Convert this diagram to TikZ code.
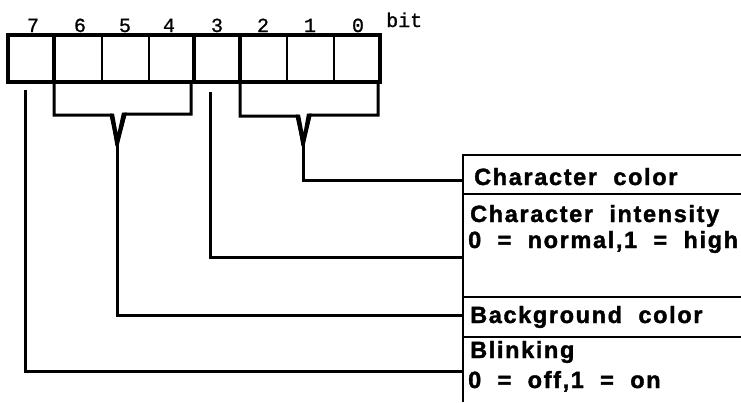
\documentclass[tikz,border=0pt]{standalone}
\usepackage{fontspec}
\newfontfamily\lblfont[LetterSpace=7,WordSpace=2,FakeBold=1.6]{Liberation Sans Bold}
\newfontfamily\bitfont[FakeBold=1]{Liberation Mono}
\tikzset{
  reg/.style={line width=3.8pt, line join=miter},
  div/.style={line width=2.8pt},
  thickdiv/.style={line width=4.4pt},
  conn/.style={line width=3pt, line join=miter},
  boxline/.style={line width=2.4pt},
  bitlbl/.style={font=\bitfont\fontsize{20}{20}\selectfont, anchor=base, inner sep=0pt},
  rowtxt/.style={font=\lblfont\fontsize{23.5}{24}\selectfont, anchor=base west, inner sep=0pt},
}
\begin{document}
\begin{tikzpicture}[x=1pt,y=-1pt]
\useasboundingbox (0,0) rectangle (741,402);
% register
\coordinate (rtl) at (8,35);
\coordinate (rbr) at (380,82);
\draw[reg] (rtl) rectangle (rbr);
\foreach \x in {102,149,287,334} \draw[div] (\x,35) -- (\x,82);
\foreach \x in {54,194,240} \draw[thickdiv] (\x,35) -- (\x,82);
% bit labels
\node[bitlbl] (b7) at (33,32) {7};
\node[bitlbl] (b6) at (80,32) {6};
\node[bitlbl] (b5) at (125,32) {5};
\node[bitlbl] (b4) at (169,32) {4};
\node[bitlbl] (b3) at (217,32) {3};
\node[bitlbl] (b2) at (263,32) {2};
\node[bitlbl] (b1) at (310,32) {1};
\node[bitlbl] (b0) at (358,32) {0};
\node[bitlbl, anchor=base west] (bit) at (386,27) {bit};
% right box
\coordinate (bxt) at (463,155);
\coordinate (bxb) at (463,402);
\draw[boxline] (bxb) -- (bxt) -- (741,155);
\draw[boxline] (463,194) -- (741,194);
\draw[boxline] (463,297) -- (741,297);
\draw[boxline] (463,337) -- (741,337);
\node[rowtxt] (cc) at (474,185) {Character color};
\node[rowtxt] (ci) at (470,222) {Character intensity};
\node[rowtxt] (ci2) at (468,248) {0 = normal,1 = high};
\node[rowtxt] (bg) at (470,323) {Background color};
\node[rowtxt] (bl) at (470,358) {Blinking};
\node[rowtxt] (bl2) at (468,388) {0 = off,1 = on};
% connector end points on the box
\coordinate (ecc) at (463,180);
\coordinate (eci) at (463,257);
\coordinate (ebg) at (463,315);
\coordinate (ebl) at (463,371);
% bit 7
\coordinate (s7) at (25,90);
\draw[conn] (s7) |- (ebl);
% bit 3
\coordinate (s3) at (210,92);
\draw[conn] (s3) |- (eci);
% bits 6-4 bracket
\coordinate (vl) at (117,143);
\draw[conn] (54,84) -- (54,115) -- (111,115) -- (vl) -- (125,114) -- (191,114) -- (191,84);
\fill (110,113.5) -- (114,113.5) -- (117.5,133) -- (122,112.5) -- (127,112.5) -- (118.5,146) -- (115.5,146) -- cycle;
\draw[conn] (vl) |- (ebg);
% bits 2-0 bracket
\coordinate (vr) at (303,143);
\draw[conn] (240,84) -- (240,116) -- (297,116) -- (vr) -- (310,115) -- (378,115) -- (378,84);
\fill (296,114.5) -- (300,114.5) -- (303.5,133) -- (307,113.5) -- (312,113.5) -- (304.5,146) -- (301.5,146) -- cycle;
\draw[conn] (vr) |- (ecc);
\end{tikzpicture}
\end{document}
